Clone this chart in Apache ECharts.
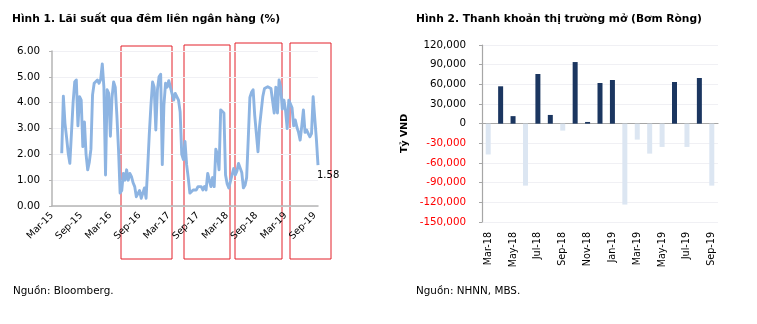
<!DOCTYPE html>
<html><head><meta charset="utf-8">
<script src="https://cdn.jsdelivr.net/npm/echarts@6/dist/echarts.min.js"></script>
<style>html,body{margin:0;padding:0;background:#fff}#c{width:757px;height:324px}</style>
</head><body><div id="c"></div>
<script>
// ---- Chart 1: overnight interbank rate (%), 3 readings per month, Mar-15 .. Sep-19
const monthNames = ['Jan','Feb','Mar','Apr','May','Jun','Jul','Aug','Sep','Oct','Nov','Dec'];
const rate2015 = [null,null,null,null,null,null,2.04,4.25,3.2,2.65,2.04,1.65,1.6,4.0,4.8,4.88,3.1,4.23,4.1,2.3,3.25,2.0,1.4,1.7,2.2,4.3,4.75,4.8,4.88,4.75];
const rate2016 = [4.9,5.5,4.6,1.2,4.5,4.36,2.7,4.2,4.8,4.6,3.5,2.2,0.5,0.6,1.26,1.0,1.4,1.0,1.26,1.14,0.9,0.75,0.36,0.36,0.6,0.3,0.35,0.7,0.3,1.5,2.8,3.9,4.8,4.6,2.94,4.5];
const rate2017 = [5.0,5.1,1.6,3.9,4.75,4.6,4.85,4.6,4.6,4.1,4.36,4.36,4.1,3.65,2.0,1.8,2.5,1.6,1.1,0.5,0.55,0.62,0.68,0.62,0.75,0.68,0.75,0.62,0.75,0.62,1.26,1.0,0.75,1.1,0.75,2.2];
const rate2018 = [2.0,1.4,3.72,3.72,3.6,1.2,0.85,0.7,0.72,1.2,1.45,1.2,1.35,1.65,1.6,1.3,0.7,0.8,1.1,2.6,4.2,4.4,4.5,3.5,2.8,2.1,3.1,3.1,4.25,4.55,4.6,4.62,4.6,4.55,4.6,3.6];
const rate2019 = [4.6,3.6,4.88,4.6,3.75,4.1,3.7,3.0,4.1,4.05,3.8,3.1,3.33,3.05,2.85,2.55,3.1,3.72,2.85,2.94,2.8,2.68,2.8,4.23,3.4,2.6,1.58];
const rateValues = [].concat(rate2015, rate2016, rate2017, rate2018, rate2019);
const rateTickLabels = ['Mar-15','Sep-15','Mar-16','Sep-16','Mar-17','Sep-17','Mar-18','Sep-18','Mar-19','Sep-19'];

// ---- Chart 2: net open-market injection (ty VND)
const barMonths = ['Mar-18','Apr-18','May-18','Jun-18','Jul-18','Aug-18','Sep-18','Oct-18','Nov-18','Dec-18','Jan-19','Feb-19','Mar-19','Apr-19','May-19','Jun-19','Jul-19','Aug-19','Sep-19'];
const netInjection = [-47000,57000,11500,-94500,75800,13300,-10600,94000,2600,62000,66600,-123400,-24300,-45700,-35500,63600,-35500,69700,-94500];

// category list for chart 1 (3 slots per month)
const rateCategories = [];
{
  let y = 2015, m = 3;
  while (y < 2019 || (y === 2019 && m <= 9)) {
    const base = monthNames[m-1] + '-' + String(y).slice(2);
    for (let d = 0; d < 3; d++) rateCategories.push(d === 0 ? base : base + '#' + d);
    m++; if (m > 12) { m = 1; y++; }
  }
}

const FONT = 'DejaVu Sans';
const chart = echarts.init(document.getElementById('c'), null, {renderer:'canvas'});
chart.setOption({
  animation: false,
  backgroundColor: '#fff',
  title: [
    {text:'Hình 1. Lãi suất qua đêm liên ngân hàng (%)', left:12, top:12, padding:0,
     textStyle:{fontFamily:FONT, fontWeight:'bold', fontSize:10.7, color:'#000', lineHeight:14}},
    {text:'Hình 2. Thanh khoản thị trường mở (Bơm Ròng)', left:416, top:12, padding:0,
     textStyle:{fontFamily:FONT, fontWeight:'bold', fontSize:10.7, color:'#000', lineHeight:14}}
  ],
  grid: [
    {left:52, top:51, right:439, bottom:118},
    {left:482, top:45, right:39, bottom:102}
  ],
  xAxis: [
    {gridIndex:0, type:'category', data:rateCategories, boundaryGap:false,
     axisLine:{lineStyle:{color:'#b5b5b5', width:1.5}}, axisTick:{show:false},
     axisLabel:{interval:17, rotate:45, margin:8, fontFamily:FONT, fontSize:9.6, color:'#000',
       formatter: v => { const s = v.split('#')[0]; return rateTickLabels.indexOf(s) >= 0 ? s : ''; }},
     splitLine:{show:false}},
    {gridIndex:1, type:'category', data:barMonths, position:'bottom',
     axisLine:{show:false, onZero:false}, axisTick:{show:false},
     axisLabel:{interval:1, rotate:90, margin:10, fontFamily:FONT, fontSize:9.6, color:'#000'}},
    {gridIndex:1, type:'category', data:barMonths,
     axisLine:{show:true, onZero:true, lineStyle:{color:'#a6a6a6', width:1.2}}, axisTick:{show:false},
     axisLabel:{show:false}}
  ],
  yAxis: [
    {gridIndex:0, type:'value', min:0, max:6, interval:1,
     axisLine:{show:true, lineStyle:{color:'#b5b5b5', width:1.5}},
     axisTick:{show:true, length:3, lineStyle:{color:'#b5b5b5'}},
     axisLabel:{margin:12, fontFamily:FONT, fontSize:10.3, color:'#000', formatter: v => v.toFixed(2)},
     splitLine:{lineStyle:{color:'#f0f0f4', width:1}}},
    {gridIndex:1, type:'value', min:-150000, max:120000, interval:30000,
     name:'Tỷ VND', nameLocation:'middle', nameRotate:90, nameGap:72,
     nameTextStyle:{fontFamily:FONT, fontWeight:'bold', fontSize:9.5, color:'#000'},
     axisLine:{show:true, lineStyle:{color:'#a6a6a6', width:1.2}},
     axisTick:{show:true, length:3, lineStyle:{color:'#a6a6a6'}},
     axisLabel:{margin:16, fontFamily:FONT, fontSize:10.3,
       color: v => (Number(v) < 0 ? '#ff0000' : '#000'),
       formatter: v => Number(v).toLocaleString('en-US')},
     splitLine:{lineStyle:{color:'#f0f0f4', width:1}}}
  ],
  series: [
    {type:'line', xAxisIndex:0, yAxisIndex:0, data:rateValues, showSymbol:false, symbol:'none',
     connectNulls:false,
     lineStyle:{color:'#8db4e2', width:2.9, join:'round'}, itemStyle:{color:'#8db4e2'},
     endLabel:{show:true, distance:0, offset:[-1,10], fontFamily:FONT, fontSize:10, color:'#000',
       formatter: p => Number(p.value).toFixed(2)}},
    {type:'bar', xAxisIndex:1, yAxisIndex:1, data:netInjection, barWidth:5,
     itemStyle:{color: p => (p.value >= 0 ? '#1b3660' : '#dce6f2')}}
  ],
  graphic: [
    {type:'rect', shape:{x:121, y:46, width:51, height:213}, style:{fill:'none', stroke:'#e3202a', lineWidth:1}},
    {type:'rect', shape:{x:184, y:45, width:46, height:214}, style:{fill:'none', stroke:'#e3202a', lineWidth:1}},
    {type:'rect', shape:{x:235, y:43, width:47, height:216}, style:{fill:'none', stroke:'#e3202a', lineWidth:1}},
    {type:'rect', shape:{x:290, y:43, width:41, height:216}, style:{fill:'none', stroke:'#e3202a', lineWidth:1}},
    {type:'text', x:13, y:291, style:{text:'Nguồn: Bloomberg.', fontFamily:FONT, fontSize:10.4, fill:'#000', verticalAlign:'middle'}},
    {type:'text', x:416, y:291, style:{text:'Nguồn: NHNN, MBS.', fontFamily:FONT, fontSize:10.4, fill:'#000', verticalAlign:'middle'}}
  ]
});
</script>
</body></html>
